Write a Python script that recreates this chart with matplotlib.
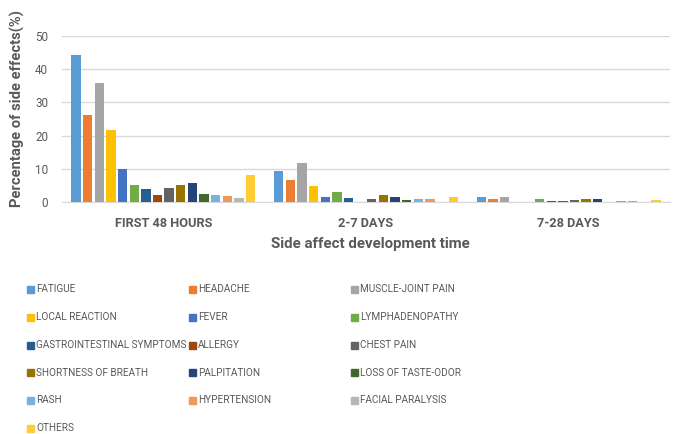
import matplotlib
matplotlib.use('Agg')
import matplotlib.pyplot as plt
import numpy as np
from matplotlib.patches import Rectangle

# ---------------- data ----------------
categories = ['FIRST 48 HOURS', '2-7 DAYS', '7-28 DAYS']
series_names = ['FATIGUE', 'HEADACHE', 'MUSCLE-JOINT PAIN', 'LOCAL REACTION', 'FEVER',
                'LYMPHADENOPATHY', 'GASTROINTESTINAL SYMPTOMS', 'ALLERGY', 'CHEST PAIN',
                'SHORTNESS OF BREATH', 'PALPITATION', 'LOSS OF TASTE-ODOR', 'RASH',
                'HYPERTENSION', 'FACIAL PARALYSIS', 'OTHERS']
fatigue = [44.4, 9.2, 1.5]
headache = [26.2, 6.6, 1.0]
muscle_joint_pain = [35.9, 11.6, 1.4]
local_reaction = [21.6, 4.7, 0.0]
fever = [9.9, 1.4, 0.0]
lymphadenopathy = [5.0, 2.9, 0.8]
gastrointestinal = [4.0, 1.2, 0.3]
allergy = [2.2, 0.0, 0.2]
chest_pain = [4.1, 1.0, 0.6]
shortness_of_breath = [5.0, 2.0, 0.8]
palpitation = [5.7, 1.4, 0.8]
loss_of_taste_odor = [2.5, 0.6, 0.1]
rash = [2.0, 0.8, 0.4]
hypertension = [1.7, 1.0, 0.3]
facial_paralysis = [1.3, 0.0, 0.0]
others = [8.0, 1.6, 0.7]
series_values = [fatigue, headache, muscle_joint_pain, local_reaction, fever,
                 lymphadenopathy, gastrointestinal, allergy, chest_pain,
                 shortness_of_breath, palpitation, loss_of_taste_odor, rash,
                 hypertension, facial_paralysis, others]
colors = ['#5B9BD5', '#ED7D31', '#A5A5A5', '#FFC000', '#4472C4', '#70AD47',
          '#255E91', '#9E480E', '#636363', '#997300', '#264478', '#43682B',
          '#7CAFDD', '#F1975A', '#B7B7B7', '#FFCD33']
yticks = [0, 10, 20, 30, 40, 50]

FONT = ['Roboto', 'DejaVu Sans']
plt.rcParams['font.family'] = FONT
TXT = '#595959'

W, H = 673, 434
fig = plt.figure(figsize=(W / 100, H / 100), dpi=100)
renderer = fig.canvas.get_renderer()


def fitted_size(text, target_px, weight='normal', base=10.0):
    t = fig.text(0, 0, text, fontsize=base, fontweight=weight)
    w = t.get_window_extent(renderer=renderer).width
    t.remove()
    return base * target_px / w


ax = fig.add_axes([62 / W, 1 - 202 / H, (670 - 62) / W, (202 - 36) / H])

n = len(series_names)
slot = 0.0575
bw = 0.046
x = np.arange(len(categories))
for i, (vals, c) in enumerate(zip(series_values, colors)):
    ax.bar(x + (i - (n - 1) / 2) * slot, vals, width=bw, color=c, zorder=3)

tick_fs = fitted_size('50', 13)
cat_fs = fitted_size('FIRST 48 HOURS', 97, 'bold')
xlab_fs = fitted_size('Side affect development time', 200, 'bold')
ylab_fs = fitted_size('Percentage of side effects(%)', 198, 'bold')
leg_fs = fitted_size('GASTROINTESTINAL SYMPTOMS', 150)

ax.set_xlim(-0.5, len(categories) - 0.5)
ax.set_ylim(0, 50)
ax.set_yticks(yticks)
ax.set_yticklabels([str(t) for t in yticks], fontsize=tick_fs, color=TXT)
ax.set_xticks(x)
ax.set_xticklabels(categories, fontsize=cat_fs, fontweight='bold', color=TXT)
ax.tick_params(axis='both', length=0)
ax.tick_params(axis='y', pad=10)
ax.tick_params(axis='x', pad=11)
ax.grid(axis='y', color='#D9D9D9', linewidth=1, zorder=0)
for s in ['top', 'right', 'left']:
    ax.spines[s].set_visible(False)
ax.spines['bottom'].set_color('#D9D9D9')
ax.set_ylabel('Percentage of side effects(%)', fontsize=ylab_fs, fontweight='bold', color=TXT)
ax.yaxis.set_label_coords(17 / W, 1 - 109 / H, transform=fig.transFigure)
ax.set_xlabel('Side affect development time', fontsize=xlab_fs, fontweight='bold', color=TXT)
ax.xaxis.set_label_coords(370 / W, 1 - 244 / H, transform=fig.transFigure)
ax.xaxis.label.set_va('center')
ax.yaxis.label.set_va('center')

# legend (row-major, three equal-width columns)
col_x = [27, 189, 351]
row_y = [289.5, 317, 345, 372.5, 400, 428]
for k, (name, c) in enumerate(zip(series_names, colors)):
    r, cc = divmod(k, 3)
    x0 = col_x[cc]
    y0 = row_y[r]
    fig.patches.append(Rectangle((x0 / W, 1 - (y0 + 3.5) / H), 7 / W, 7 / H,
                                 transform=fig.transFigure, color=c, figure=fig))
    fig.text((x0 + 9) / W, 1 - y0 / H, name, fontsize=leg_fs, color=TXT,
             va='center', ha='left')

fig.savefig('out.png', dpi=100)
